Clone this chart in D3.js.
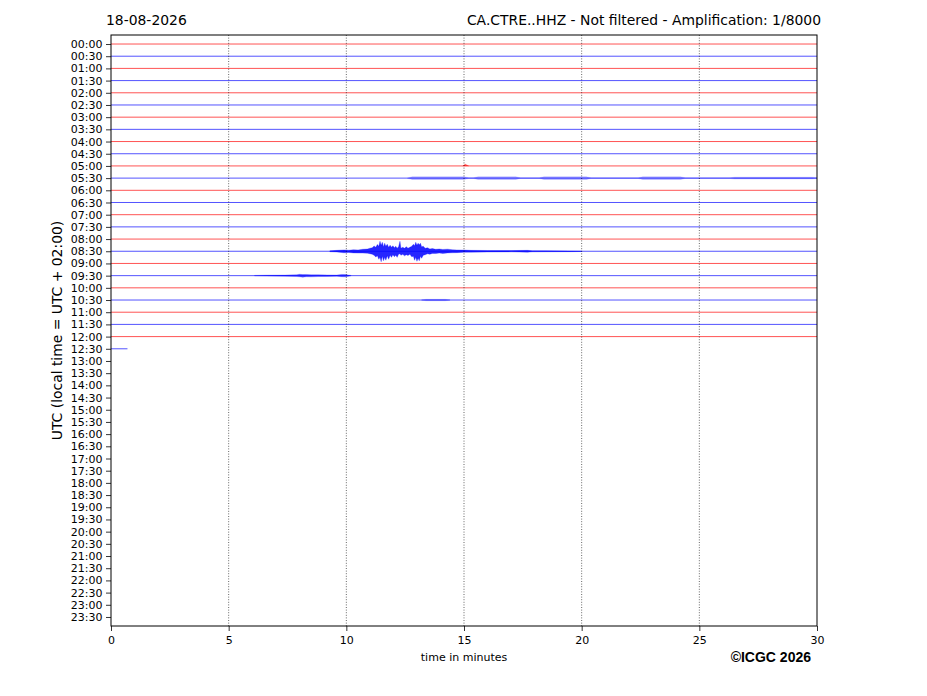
<!DOCTYPE html>
<html>
<head>
<meta charset="utf-8">
<script src="https://cdn.jsdelivr.net/npm/d3@7/dist/d3.min.js"></script>
<style>
  html, body { margin: 0; padding: 0; background: #fff; }
  svg { display: block; }
</style>
</head>
<body>
<svg id="chart" width="927" height="696"></svg>
<script>
// ---------------- data ----------------
const dateLabel = "18-08-2026";
const stationTitle = "CA.CTRE..HHZ - Not filtered - Amplification: 1/8000";
const amplification = 8000;

const rowLabels = [
  "00:00","00:30","01:00","01:30","02:00","02:30","03:00","03:30",
  "04:00","04:30","05:00","05:30","06:00","06:30","07:00","07:30",
  "08:00","08:30","09:00","09:30","10:00","10:30","11:00","11:30",
  "12:00","12:30","13:00","13:30","14:00","14:30","15:00","15:30",
  "16:00","16:30","17:00","17:30","18:00","18:30","19:00","19:30",
  "20:00","20:30","21:00","21:30","22:00","22:30","23:00","23:30"
];

// minutes of signal recorded in each 30-minute row
const recordedMinutes = [
  30,30,30,30,30,30,30,30,30,30,30,30,30,30,30,30,
  30,30,30,30,30,30,30,30,30,0.7,0,0,0,0,0,0,
  0,0,0,0,0,0,0,0,0,0,0,0,0,0,0,0
];

const xTicks = [0, 5, 10, 15, 20, 25, 30];

// amplitude envelopes: [minute, upper counts, lower counts]
const env0500 = [
  [14.95, 0, 0], [15.05, 1200, 0], [15.2, 0, 0]
];
const env0530 = [
  [12.6, 150, 150], [12.8, 900, 900], [15.0, 900, 900], [15.2, 300, 300],
  [15.4, 300, 300], [15.6, 900, 900], [17.2, 900, 900], [17.4, 250, 250],
  [18.2, 250, 250], [18.4, 900, 900], [20.2, 900, 900], [20.4, 250, 250],
  [22.4, 250, 250], [22.6, 900, 900], [24.2, 900, 900], [24.4, 250, 250],
  [26.3, 250, 250], [26.5, 600, 600], [29.8, 600, 600], [30.0, 300, 300]
];
const env0830 = [
  [9.3, 300, 300], [9.6, 600, 500], [9.9, 900, 1000], [10.1, 700, 800],
  [10.3, 1000, 1100], [10.5, 900, 1200], [10.7, 1300, 1200], [10.9, 1500, 1300],
  [11.0, 2000, 1600], [11.1, 2300, 2000], [11.18, 3500, 2600], [11.25, 2600, 3800],
  [11.32, 4500, 3000], [11.38, 3300, 5300], [11.43, 6600, 4000], [11.48, 4000, 6900],
  [11.53, 5900, 3300], [11.58, 3000, 6300], [11.63, 5300, 4000], [11.68, 3300, 5900],
  [11.74, 4600, 3000], [11.8, 2600, 5300], [11.86, 4000, 2600], [11.92, 2600, 4000],
  [11.98, 3600, 2300], [12.04, 2300, 3600], [12.1, 3300, 2600], [12.16, 2000, 4000],
  [12.22, 3000, 2000], [12.28, 6600, 1700], [12.32, 2000, 2600], [12.4, 2600, 2000],
  [12.47, 2000, 3000], [12.55, 3000, 2300], [12.62, 2000, 2800], [12.7, 2600, 2000],
  [12.78, 3300, 3600], [12.85, 4600, 3300], [12.9, 3600, 5900], [12.95, 5900, 4000],
  [13.0, 4000, 6600], [13.05, 5300, 4600], [13.1, 4300, 6300], [13.15, 5300, 3300],
  [13.2, 3000, 4600], [13.27, 3300, 2600], [13.35, 2000, 2300], [13.45, 2300, 1700],
  [13.55, 1500, 2000], [13.65, 1800, 1400], [13.8, 1300, 1500], [13.95, 1500, 1200],
  [14.1, 1200, 1400], [14.3, 1400, 1100], [14.5, 1000, 1000], [14.7, 900, 900],
  [15.0, 800, 700], [15.3, 600, 600], [16.0, 500, 500], [17.0, 450, 400],
  [17.7, 600, 600], [17.9, 400, 400], [18.5, 330, 330], [19.5, 250, 250],
  [20.0, 150, 150]
];
const env0930 = [
  [6.1, 150, 150], [6.6, 300, 300], [7.4, 350, 350], [7.9, 600, 600],
  [8.0, 900, 700], [8.15, 700, 1000], [8.3, 800, 700], [8.5, 600, 800],
  [8.8, 600, 600], [9.2, 500, 500], [9.6, 400, 400], [9.8, 800, 700],
  [9.95, 700, 800], [10.1, 400, 400], [10.2, 150, 150]
];
const env1030 = [
  [13.2, 150, 150], [13.4, 450, 450], [14.2, 450, 450], [14.4, 150, 150]
];

// ---------------- layout ----------------
const svg = d3.select("#chart");
const margin = { left: 111, right: 817, top: 35, bottom: 626 };
const FONT = "DejaVu Sans, Verdana, sans-serif";

const x = d3.scaleLinear().domain([0, 30]).range([margin.left, margin.right]);
const yRow = d3.scaleLinear().domain([-0.74, rowLabels.length - 1 + 0.74]).range([margin.top, margin.bottom]);

const rowColor = i => (i % 2 === 0 ? "#ff0000" : "#0000ff");

svg.append("defs").append("clipPath").attr("id", "plotclip")
  .append("rect")
  .attr("x", margin.left).attr("y", margin.top)
  .attr("width", margin.right - margin.left).attr("height", margin.bottom - margin.top);

const plot = svg.append("g").attr("clip-path", "url(#plotclip)");

// baseline traces
const traceRows = rowLabels.map((lab, i) => ({ label: lab, index: i, end: recordedMinutes[i] }))
  .filter(d => d.end > 0);

plot.selectAll("line.trace").data(traceRows).enter().append("line")
  .attr("class", "trace")
  .attr("x1", x(0))
  .attr("x2", d => x(d.end))
  .attr("y1", d => yRow(d.index))
  .attr("y2", d => yRow(d.index))
  .attr("stroke", d => rowColor(d.index))
  .attr("stroke-width", 0.8)
  .attr("stroke-opacity", 0.85);

// envelopes
const envelopeSeries = [
  { row: "05:00", points: env0500, opacity: 0.6 },
  { row: "05:30", points: env0530, opacity: 0.35 },
  { row: "08:30", points: env0830, opacity: 0.85 },
  { row: "09:30", points: env0930, opacity: 0.7 },
  { row: "10:30", points: env1030, opacity: 0.45 }
];

envelopeSeries.forEach(s => {
  const i = rowLabels.indexOf(s.row);
  const area = d3.area()
    .x(d => x(d[0]))
    .y0(d => yRow(i + d[2] / amplification))
    .y1(d => yRow(i - d[1] / amplification))
    .curve(d3.curveLinear);
  plot.append("path")
    .datum(s.points)
    .attr("d", area)
    .attr("fill", rowColor(i))
    .attr("fill-opacity", s.opacity)
    .attr("stroke", rowColor(i))
    .attr("stroke-width", 0.3)
    .attr("stroke-opacity", s.opacity);
});

// vertical dotted grid
svg.append("g").selectAll("line.grid")
  .data(xTicks.filter(t => t > 0 && t < 30))
  .enter().append("line")
  .attr("x1", d => x(d)).attr("x2", d => x(d))
  .attr("y1", margin.top).attr("y2", margin.bottom)
  .attr("stroke", "#000")
  .attr("stroke-width", 0.6)
  .attr("stroke-dasharray", "1,1.6");

// frame
svg.append("rect")
  .attr("x", margin.left).attr("y", margin.top)
  .attr("width", margin.right - margin.left).attr("height", margin.bottom - margin.top)
  .attr("fill", "none").attr("stroke", "#000").attr("stroke-width", 1);

// left axis
const yBand = d3.scalePoint().domain(rowLabels).range([yRow(0), yRow(rowLabels.length - 1)]);
const gy = svg.append("g").attr("transform", `translate(${margin.left},0)`)
  .call(d3.axisLeft(yBand).tickSize(5).tickPadding(3.5));
gy.select(".domain").remove();
gy.selectAll("text").attr("font-family", FONT).attr("font-size", 11).attr("fill", "#000");
gy.selectAll("line").attr("stroke", "#000").attr("stroke-width", 0.8);

// bottom axis
const gx = svg.append("g").attr("transform", `translate(0,${margin.bottom})`)
  .call(d3.axisBottom(x).tickValues(xTicks).tickFormat(d3.format("d")).tickSize(5).tickPadding(5));
gx.select(".domain").remove();
gx.selectAll("text").attr("font-family", FONT).attr("font-size", 11).attr("fill", "#000");
gx.selectAll("line").attr("stroke", "#000").attr("stroke-width", 0.8);

// titles
svg.append("text").attr("x", 106).attr("y", 25)
  .attr("font-family", FONT).attr("font-size", 13.9).attr("fill", "#000")
  .text(dateLabel);
svg.append("text").attr("x", 821).attr("y", 25).attr("text-anchor", "end")
  .attr("font-family", FONT).attr("font-size", 13.9).attr("fill", "#000")
  .text(stationTitle);

// axis labels
svg.append("text")
  .attr("transform", `translate(62,${(margin.top + margin.bottom) / 2}) rotate(-90)`)
  .attr("text-anchor", "middle")
  .attr("font-family", FONT).attr("font-size", 13.9).attr("fill", "#000")
  .text("UTC (local time = UTC + 02:00)");
svg.append("text")
  .attr("x", (margin.left + margin.right) / 2).attr("y", 661)
  .attr("text-anchor", "middle")
  .attr("font-family", FONT).attr("font-size", 11).attr("fill", "#000")
  .text("time in minutes");

// credit
svg.append("text").attr("x", 811).attr("y", 662).attr("text-anchor", "end")
  .attr("font-family", "Liberation Sans, Arial, sans-serif").attr("font-weight", "bold")
  .attr("font-size", 14).attr("fill", "#000")
  .text("©ICGC 2026");
</script>
</body>
</html>
